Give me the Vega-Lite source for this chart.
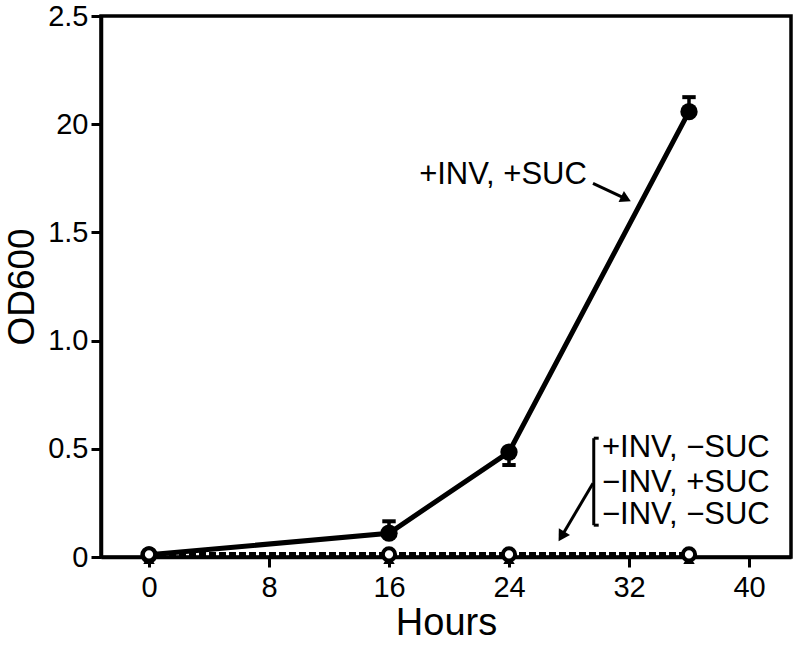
{
  "$schema": "https://vega.github.io/schema/vega-lite/v6.json",
  "autosize": "none",
  "width": 690,
  "height": 541,
  "padding": {"left": 101, "top": 16, "right": 7, "bottom": 89},
  "background": "white",
  "config": {
    "font": "Liberation Sans",
    "view": {"stroke": "black", "strokeWidth": 3.5},
    "axis": {
      "domainColor": "black", "domainWidth": 3.5, "tickColor": "black", "tickWidth": 3,
      "tickSize": 10, "labelFontSize": 29, "labelColor": "black", "titleColor": "black",
      "titleFontWeight": "normal", "grid": false, "labelFont": "Liberation Sans", "titleFont": "Liberation Sans"
    }
  },
  "datasets": {
    "grow": [
      {"h": 0, "od": 0.01},
      {"h": 16, "od": 0.11},
      {"h": 24, "od": 0.485},
      {"h": 36, "od": 2.058}
    ],
    "err": [
      {"h": 16, "lo": 0.11, "hi": 0.165},
      {"h": 24, "lo": 0.425, "hi": 0.485},
      {"h": 36, "lo": 2.058, "hi": 2.125}
    ],
    "flat": [
      {"h": 0, "od": 0.012},
      {"h": 16, "od": 0.012},
      {"h": 24, "od": 0.012},
      {"h": 36, "od": 0.012}
    ],
    "tri": [
      {"h": 0, "od": -0.01},
      {"h": 16, "od": -0.01},
      {"h": 24, "od": -0.01},
      {"h": 36, "od": -0.01}
    ],
    "arrow1": [{"x": 29.6, "y": 1.727, "x2": 31.8, "y2": 1.655}],
    "arrow2": [{"x": 29.6, "y": 0.341, "x2": 27.5, "y2": 0.095}],
    "bracket": [
      {"x": 29.65, "y": 0.549, "x2": 29.65, "y2": 0.147},
      {"x": 29.65, "y": 0.549, "x2": 29.98, "y2": 0.549},
      {"x": 29.65, "y": 0.147, "x2": 29.98, "y2": 0.147}
    ],
    "label1": [{"x": 23.6, "y": 1.765, "t": "+INV, +SUC"}],
    "label2": [
      {"x": 30.2, "y": 0.503, "t": "+INV, −SUC"},
      {"x": 30.2, "y": 0.341, "t": "−INV, +SUC"},
      {"x": 30.2, "y": 0.193, "t": "−INV, −SUC"}
    ]
  },
  "layer": [
    {
      "data": {"name": "flat"},
      "mark": {"type": "line", "color": "black", "strokeWidth": 5, "strokeDash": [7, 3]},
      "encoding": {
        "x": {"field": "h", "type": "quantitative", "scale": {"domain": [-3.2, 42.8], "nice": false, "zero": false},
          "axis": {"values": [0, 8, 16, 24, 32, 40], "title": "Hours", "titleFontSize": 38, "titlePadding": 2, "labelPadding": 6}},
        "y": {"field": "od", "type": "quantitative", "scale": {"domain": [0, 2.5], "nice": false},
          "axis": {"values": [0, 0.5, 1, 1.5, 2, 2.5], "title": "OD600", "titleFontSize": 37, "titlePadding": 6, "labelPadding": 3,
            "labelExpr": "datum.value == 0 ? '0' : datum.value == 2 ? '20' : format(datum.value, '.1f')"}}
      }
    },
    {
      "data": {"name": "tri"},
      "mark": {"type": "point", "shape": "triangle-up", "filled": true, "color": "black", "size": 130, "opacity": 1},
      "encoding": {"x": {"field": "h", "type": "quantitative"}, "y": {"field": "od", "type": "quantitative"}}
    },
    {
      "data": {"name": "grow"},
      "mark": {"type": "line", "color": "black", "strokeWidth": 5},
      "encoding": {"x": {"field": "h", "type": "quantitative"}, "y": {"field": "od", "type": "quantitative"}}
    },
    {
      "data": {"name": "err"},
      "mark": {"type": "rule", "color": "black", "strokeWidth": 3.5},
      "encoding": {"x": {"field": "h", "type": "quantitative"}, "y": {"field": "lo", "type": "quantitative"}, "y2": {"field": "hi"}}
    },
    {
      "data": {"name": "err"},
      "transform": [{"calculate": "datum.h == 24 ? datum.lo : datum.hi", "as": "cap"}],
      "mark": {"type": "point", "shape": "stroke", "color": "black", "strokeWidth": 4, "size": 180, "opacity": 1},
      "encoding": {"x": {"field": "h", "type": "quantitative"}, "y": {"field": "cap", "type": "quantitative"}}
    },
    {
      "data": {"name": "grow"},
      "mark": {"type": "point", "shape": "circle", "filled": true, "color": "black", "size": 300, "opacity": 1},
      "encoding": {"x": {"field": "h", "type": "quantitative"}, "y": {"field": "od", "type": "quantitative"}}
    },
    {
      "data": {"name": "flat"},
      "mark": {"type": "point", "shape": "circle", "filled": false, "fill": "white", "stroke": "black", "strokeWidth": 4, "size": 150, "opacity": 1, "fillOpacity": 1},
      "encoding": {"x": {"field": "h", "type": "quantitative"}, "y": {"field": "od", "type": "quantitative"}}
    },
    {
      "data": {"name": "arrow1"},
      "mark": {"type": "rule", "color": "black", "strokeWidth": 3},
      "encoding": {"x": {"field": "x", "type": "quantitative"}, "y": {"field": "y", "type": "quantitative"}, "x2": {"field": "x2"}, "y2": {"field": "y2"}}
    },
    {
      "data": {"name": "arrow1"},
      "mark": {"type": "point", "shape": "triangle-up", "filled": true, "color": "black", "size": 150, "angle": 116, "opacity": 1},
      "encoding": {"x": {"field": "x2", "type": "quantitative"}, "y": {"field": "y2", "type": "quantitative"}}
    },
    {
      "data": {"name": "arrow2"},
      "mark": {"type": "rule", "color": "black", "strokeWidth": 3},
      "encoding": {"x": {"field": "x", "type": "quantitative"}, "y": {"field": "y", "type": "quantitative"}, "x2": {"field": "x2"}, "y2": {"field": "y2"}}
    },
    {
      "data": {"name": "arrow2"},
      "mark": {"type": "point", "shape": "triangle-up", "filled": true, "color": "black", "size": 170, "angle": 211, "opacity": 1},
      "encoding": {"x": {"field": "x2", "type": "quantitative"}, "y": {"field": "y2", "type": "quantitative"}}
    },
    {
      "data": {"name": "bracket"},
      "mark": {"type": "rule", "color": "black", "strokeWidth": 3},
      "encoding": {"x": {"field": "x", "type": "quantitative"}, "y": {"field": "y", "type": "quantitative"}, "x2": {"field": "x2"}, "y2": {"field": "y2"}}
    },
    {
      "data": {"name": "label1"},
      "mark": {"type": "text", "fontSize": 31, "color": "black", "align": "center", "baseline": "middle", "font": "Liberation Sans"},
      "encoding": {"x": {"field": "x", "type": "quantitative"}, "y": {"field": "y", "type": "quantitative"}, "text": {"field": "t"}}
    },
    {
      "data": {"name": "label2"},
      "mark": {"type": "text", "fontSize": 31, "color": "black", "align": "left", "baseline": "middle", "font": "Liberation Sans"},
      "encoding": {"x": {"field": "x", "type": "quantitative"}, "y": {"field": "y", "type": "quantitative"}, "text": {"field": "t"}}
    }
  ]
}
